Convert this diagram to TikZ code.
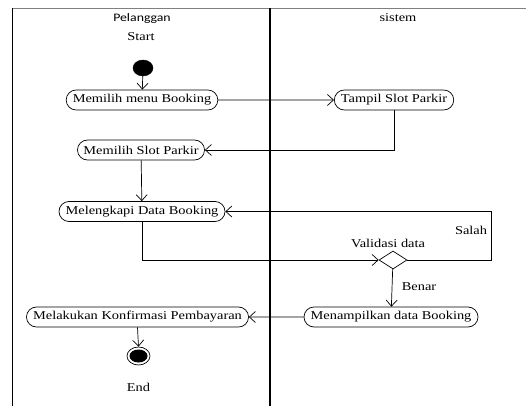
\documentclass[tikz,border=0pt]{standalone}
\usepackage{fontspec}
\setmainfont{Liberation Serif}[FakeStretch=1.2]
\newfontfamily\hdrfont{Carlito}[FakeStretch=1.2]
\usetikzlibrary{arrows.meta,shapes.geometric,shapes.misc}
\begin{document}
\begin{tikzpicture}[x=1pt,y=-1pt,
  act/.style={draw,rounded rectangle,minimum height=20pt,inner xsep=5pt,inner ysep=0pt,font=\fontsize{12}{12}\selectfont,line width=0.7pt},
  lbl/.style={font=\fontsize{12}{12}\selectfont,inner sep=0pt},
  flow/.style={-{Straight Barb[length=6pt,width=11pt]},line width=0.7pt},
  lane/.style={line width=0.7pt}]
\useasboundingbox (0,0) rectangle (526,406);
% swimlanes
\draw[lane,gray] (12,8) -- (526,8);
\draw[lane] (12,8) -- (12,406);
\draw[line width=1.4pt] (270,8) -- (270,406);
\node[font=\hdrfont\fontsize{11.5}{11.5}\selectfont,inner sep=0pt] (hp) at (142,18) {Pelanggan};
\node[lbl] (hs) at (398,18) {sistem};
% nodes
\node[lbl] (tstart) at (141,37) {Start};
\node[draw,fill=black,ellipse,minimum width=20pt,minimum height=16pt,inner sep=0pt] (start) at (143,68) {};
\node[act] (booking) at (142,100) {Memilih menu Booking};
\node[act] (tampil) at (394,100) {Tampil Slot Parkir};
\node[act] (mslot) at (141,150) {Memilih Slot Parkir};
\node[act] (lengkap) at (142,211.5) {Melengkapi Data Booking};
\node[draw,diamond,aspect=1.55,minimum width=28pt,minimum height=18pt,inner sep=0pt,line width=0.7pt] (valid) at (393,260) {};
\node[lbl] (tvalid) at (388,243) {Validasi data};
\node[lbl] (tsalah) at (471,230) {Salah};
\node[lbl] (tbenar) at (419,287) {Benar};
\node[act] (tampilkan) at (391,317) {Menampilkan data Booking};
\node[act] (konfirm) at (137.5,317) {Melakukan Konfirmasi Pembayaran};
\node[draw,ellipse,minimum width=23pt,minimum height=18pt,inner sep=0pt,line width=0.7pt] (endo) at (138.5,356) {};
\node[fill=black,ellipse,minimum width=18pt,minimum height=13pt,inner sep=0pt] (endi) at (138.5,356) {};
\node[lbl] (tend) at (138.5,387) {End};
\coordinate (loopr) at (491,260);
% connectors
\draw[flow] (start) -- (booking);
\draw[flow] (booking) -- (tampil);
\draw[flow] (tampil.south) |- (mslot.east);
\draw[flow] (mslot) -- (lengkap);
\draw[flow] (lengkap.south) |- (valid.west);
\draw[flow] (valid.east) -- (loopr) |- (lengkap.east);
\draw[flow] (valid) -- (tampilkan);
\draw[flow] (tampilkan) -- (konfirm);
\draw[flow] (konfirm.south) -- (endo.north);
\end{tikzpicture}
\end{document}
